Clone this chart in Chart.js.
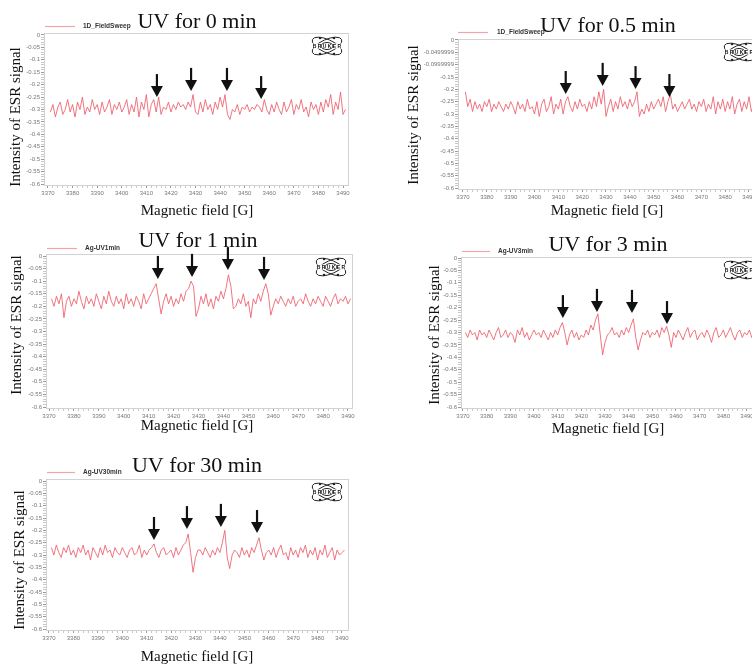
<!DOCTYPE html>
<html>
<head>
<meta charset="utf-8">
<script src="https://cdn.jsdelivr.net/npm/chart.js@4.4.1/dist/chart.umd.min.js"></script>
<style>
  html, body { margin: 0; padding: 0; background: #fff; overflow: hidden; }
  #figure { position: relative; width: 752px; height: 666px; overflow: hidden; background: #fff; }
  #figure canvas { position: absolute; left: 0; top: 0; }
</style>
</head>
<body>
<div id="figure">
  <canvas id="uv0" width="780" height="666"></canvas>
  <canvas id="uv05" width="780" height="666"></canvas>
  <canvas id="uv1" width="780" height="666"></canvas>
  <canvas id="uv3" width="780" height="666"></canvas>
  <canvas id="uv30" width="780" height="666"></canvas>
</div>
<script>
// field sweep: one point per gauss starting at 3371 G
const fieldStart = 3371;
const fieldStep = 1;

const xTickLabels = ['3370', '3380', '3390', '3400', '3410', '3420', '3430', '3440', '3450', '3460', '3470', '3480', '3490'];
const yTickLabels = ['0', '-0.05', '-0.1', '-0.15', '-0.2', '-0.25', '-0.3', '-0.35', '-0.4', '-0.45', '-0.5', '-0.55', '-0.6'];
const yTickLabelsSweep = ['0', '-0.0499999', '-0.0999999', '-0.15', '-0.2', '-0.25', '-0.3', '-0.35', '-0.4', '-0.45', '-0.5', '-0.55', '-0.6'];

const panelTitles = ['UV for 0 min', 'UV for 0.5 min', 'UV for 1 min', 'UV for 3 min', 'UV for 30 min'];
const legendLabels = ['1D_FieldSweep', '1D_FieldSweep', 'Ag-UV1min', 'Ag-UV3min', 'Ag-UV30min'];

const signal0min = [
  -0.31, -0.28, -0.33, -0.29, -0.27, -0.32, -0.30, -0.26, -0.31, -0.28,
  -0.33, -0.27, -0.30, -0.25, -0.32, -0.29, -0.31, -0.26, -0.30, -0.28,
  -0.32, -0.27, -0.31, -0.29, -0.26, -0.32, -0.28, -0.30, -0.27, -0.31,
  -0.29, -0.26, -0.32, -0.28, -0.31, -0.25, -0.33, -0.27, -0.30, -0.24,
  -0.33, -0.28, -0.26, -0.31, -0.25, -0.32, -0.29, -0.30, -0.27, -0.31,
  -0.28, -0.30, -0.27, -0.29, -0.28, -0.30, -0.27, -0.29, -0.24, -0.31,
  -0.32, -0.27, -0.31, -0.26, -0.30, -0.28, -0.32, -0.27, -0.30, -0.25,
  -0.29, -0.24, -0.32, -0.34, -0.30, -0.31, -0.28, -0.32, -0.29, -0.30,
  -0.28, -0.31, -0.29, -0.30, -0.28, -0.29, -0.31, -0.26, -0.30, -0.32,
  -0.28, -0.31, -0.27, -0.30, -0.32, -0.27, -0.31, -0.29, -0.26, -0.32,
  -0.28, -0.30, -0.26, -0.31, -0.29, -0.33, -0.27, -0.30, -0.28, -0.32,
  -0.27, -0.31, -0.26, -0.29, -0.24, -0.32, -0.27, -0.30, -0.23, -0.32,
  -0.30
];

const signal05min = [
  -0.21, -0.27, -0.24, -0.29, -0.25, -0.28, -0.26, -0.29, -0.25, -0.27,
  -0.24, -0.29, -0.26, -0.28, -0.25, -0.27, -0.29, -0.26, -0.28, -0.25,
  -0.27, -0.30, -0.25, -0.28, -0.26, -0.29, -0.24, -0.28, -0.27, -0.30,
  -0.25, -0.31, -0.26, -0.24, -0.29, -0.27, -0.23, -0.30, -0.26, -0.28,
  -0.24, -0.30, -0.25, -0.23, -0.27, -0.29, -0.25, -0.28, -0.24, -0.27,
  -0.26, -0.29, -0.25, -0.28, -0.23, -0.27, -0.21, -0.26, -0.20, -0.31,
  -0.27, -0.24, -0.29, -0.25, -0.28, -0.23, -0.27, -0.25, -0.28, -0.24,
  -0.27, -0.25, -0.21, -0.31, -0.28, -0.30, -0.26, -0.29, -0.25, -0.28,
  -0.26, -0.24, -0.27, -0.23, -0.29, -0.25, -0.22, -0.28, -0.26, -0.29,
  -0.27, -0.25, -0.28, -0.26, -0.24, -0.28, -0.26, -0.29, -0.25, -0.27,
  -0.24, -0.29, -0.26, -0.28, -0.23, -0.30, -0.25, -0.28, -0.24, -0.29,
  -0.25, -0.28, -0.23, -0.30, -0.26, -0.24, -0.29, -0.25, -0.28, -0.23,
  -0.29, -0.26, -0.28, -0.25
];

const signal1min = [
  -0.17, -0.20, -0.16, -0.19, -0.15, -0.245, -0.18, -0.16, -0.20, -0.17,
  -0.19, -0.14, -0.18, -0.21, -0.16, -0.19, -0.17, -0.20, -0.15, -0.18,
  -0.21, -0.16, -0.19, -0.14, -0.18, -0.20, -0.16, -0.19, -0.17, -0.21,
  -0.15, -0.19, -0.17, -0.20, -0.16, -0.18, -0.21, -0.15, -0.19, -0.17,
  -0.15, -0.13, -0.11, -0.17, -0.23, -0.18, -0.15, -0.19, -0.16, -0.20,
  -0.17, -0.19, -0.15, -0.18, -0.14, -0.13, -0.10, -0.12, -0.24, -0.21,
  -0.16, -0.19, -0.15, -0.20, -0.17, -0.21, -0.16, -0.18, -0.14, -0.17,
  -0.13, -0.075, -0.12, -0.21, -0.20, -0.17, -0.19, -0.15, -0.20, -0.18,
  -0.245, -0.17, -0.19, -0.15, -0.18, -0.14, -0.11, -0.15, -0.235, -0.20,
  -0.17, -0.19, -0.16, -0.18, -0.20, -0.17, -0.19, -0.16, -0.20, -0.18,
  -0.17, -0.19, -0.15, -0.18, -0.20, -0.17, -0.19, -0.16, -0.18, -0.20,
  -0.16, -0.18, -0.20, -0.17, -0.15, -0.19, -0.17, -0.18, -0.16, -0.19,
  -0.17
];

const signal3min = [
  -0.30, -0.32, -0.29, -0.31, -0.30, -0.33, -0.29, -0.31, -0.30, -0.32,
  -0.29, -0.31, -0.33, -0.30, -0.28, -0.32, -0.31, -0.29, -0.32, -0.30,
  -0.31, -0.34, -0.29, -0.31, -0.28, -0.32, -0.30, -0.33, -0.31, -0.29,
  -0.31, -0.30, -0.32, -0.29, -0.31, -0.33, -0.30, -0.32, -0.29, -0.31,
  -0.28, -0.26, -0.30, -0.35, -0.31, -0.29, -0.32, -0.30, -0.33, -0.31,
  -0.32, -0.29, -0.31, -0.27, -0.29, -0.25, -0.225, -0.31, -0.39, -0.34,
  -0.31, -0.30, -0.28, -0.31, -0.30, -0.32, -0.29, -0.31, -0.28, -0.30,
  -0.27, -0.245, -0.32, -0.37, -0.33, -0.30, -0.31, -0.29, -0.32, -0.30,
  -0.31, -0.29, -0.32, -0.28, -0.30, -0.275, -0.31, -0.36, -0.30, -0.32,
  -0.29, -0.31, -0.33, -0.30, -0.28, -0.32, -0.30, -0.29, -0.33, -0.31,
  -0.30, -0.32, -0.29, -0.31, -0.34, -0.30, -0.28, -0.32, -0.31, -0.29,
  -0.32, -0.30, -0.28, -0.31, -0.33, -0.30, -0.29, -0.32, -0.30, -0.31,
  -0.29, -0.32, -0.30, -0.31
];

const signal30min = [
  -0.27, -0.30, -0.26, -0.29, -0.31, -0.27, -0.29, -0.26, -0.30, -0.28,
  -0.31, -0.27, -0.29, -0.26, -0.30, -0.28, -0.32, -0.27, -0.29, -0.31,
  -0.27, -0.30, -0.26, -0.29, -0.28, -0.31, -0.27, -0.29, -0.30, -0.27,
  -0.29, -0.31, -0.28, -0.27, -0.30, -0.29, -0.26, -0.31, -0.28, -0.30,
  -0.28, -0.27, -0.255, -0.29, -0.31, -0.28, -0.27, -0.30, -0.29, -0.28,
  -0.31, -0.27, -0.30, -0.28, -0.26, -0.25, -0.215, -0.29, -0.37, -0.31,
  -0.28, -0.28, -0.30, -0.27, -0.29, -0.31, -0.28, -0.30, -0.27, -0.29,
  -0.25, -0.20, -0.31, -0.355, -0.30, -0.28, -0.29, -0.31, -0.27, -0.30,
  -0.28, -0.31, -0.27, -0.29, -0.26, -0.23, -0.28, -0.32, -0.29, -0.28,
  -0.30, -0.27, -0.31, -0.28, -0.26, -0.30, -0.29, -0.32, -0.27, -0.30,
  -0.28, -0.31, -0.27, -0.29, -0.26, -0.31, -0.28, -0.30, -0.27, -0.32,
  -0.28, -0.30, -0.26, -0.31, -0.29, -0.27, -0.32, -0.28, -0.30, -0.29,
  -0.28
];

// arrow markers: field position and signal level of the arrow tip
const arrowField0min = [3414.3, 3428.2, 3442.8, 3456.7];
const arrowTip0min = [-0.25, -0.225, -0.225, -0.258];
const arrowField05min = [3413.1, 3428.6, 3442.4, 3456.6];
const arrowTip05min = [-0.219, -0.186, -0.199, -0.231];
const arrowField1min = [3413.7, 3427.4, 3441.8, 3456.3];
const arrowTip1min = [-0.091, -0.083, -0.056, -0.095];
const arrowField3min = [3412.2, 3426.6, 3441.4, 3456.2];
const arrowTip3min = [-0.242, -0.217, -0.221, -0.266];
const arrowField30min = [3413.0, 3426.5, 3440.4, 3455.2];
const arrowTip30min = [-0.239, -0.195, -0.186, -0.211];

const SERIF = "'Liberation Serif', 'Times New Roman', serif";
const SANS = "'Liberation Sans', Arial, sans-serif";
const traceColor = '#ec5d6a';
const CANVAS_W = 780, CANVAS_H = 666;

// page layout of each panel: plot box, pixel calibration of 3370/3490 G and 0/-0.6, text anchors
const panels = [
  { id: 'uv0', title: panelTitles[0], legend: legendLabels[0], values: signal0min,
    arrowField: arrowField0min, arrowTip: arrowTip0min, yLabels: yTickLabels,
    box: { l: 44, t: 33, r: 348, b: 185 }, cal: { x0: 48, x1: 343, y0: 35, y1: 184 },
    titleAt: [197, 28], legendAt: [45, 75, 26, 83], xTitleAt: [197, 211], yTitleAt: [16, 117] },
  { id: 'uv05', title: panelTitles[1], legend: legendLabels[1], values: signal05min,
    arrowField: arrowField05min, arrowTip: arrowTip05min, yLabels: yTickLabelsSweep,
    box: { l: 458, t: 39, r: 760, b: 189 }, cal: { x0: 463, x1: 749, y0: 40, y1: 188 },
    titleAt: [608, 32], legendAt: [458, 488, 32, 497], xTitleAt: [607, 211], yTitleAt: [414, 115] },
  { id: 'uv1', title: panelTitles[2], legend: legendLabels[2], values: signal1min,
    arrowField: arrowField1min, arrowTip: arrowTip1min, yLabels: yTickLabels,
    box: { l: 46, t: 254, r: 352, b: 408 }, cal: { x0: 49, x1: 348, y0: 256, y1: 407 },
    titleAt: [198, 247], legendAt: [47, 77, 248, 85], xTitleAt: [197, 426], yTitleAt: [17, 325] },
  { id: 'uv3', title: panelTitles[3], legend: legendLabels[3], values: signal3min,
    arrowField: arrowField3min, arrowTip: arrowTip3min, yLabels: yTickLabels,
    box: { l: 461, t: 257, r: 760, b: 408 }, cal: { x0: 463, x1: 747, y0: 258, y1: 407 },
    titleAt: [608, 251], legendAt: [462, 490, 251, 498], xTitleAt: [608, 429], yTitleAt: [435, 335] },
  { id: 'uv30', title: panelTitles[4], legend: legendLabels[4], values: signal30min,
    arrowField: arrowField30min, arrowTip: arrowTip30min, yLabels: yTickLabels,
    box: { l: 46, t: 479, r: 348, b: 630 }, cal: { x0: 49, x1: 342, y0: 481, y1: 629 },
    titleAt: [197, 472], legendAt: [47, 75, 472, 83], xTitleAt: [197, 657], yTitleAt: [20, 560] }
];

// tick positions: major every 10 G / 0.05, minor in between
const xTickValues = [];
for (let v = 3370; v <= 3490; v += 2) xTickValues.push(v);
const yTickValues = [];
for (let i = 60; i >= 0; i--) yTickValues.push(-i / 100);

function drawArrow(ctx, x, tipY) {
  ctx.save();
  ctx.strokeStyle = '#111';
  ctx.fillStyle = '#111';
  ctx.lineWidth = 2.2;
  ctx.beginPath();
  ctx.moveTo(x, tipY - 23);
  ctx.lineTo(x, tipY - 10);
  ctx.stroke();
  ctx.beginPath();
  ctx.moveTo(x - 6, tipY - 11);
  ctx.lineTo(x + 6, tipY - 11);
  ctx.lineTo(x, tipY);
  ctx.closePath();
  ctx.fill();
  ctx.restore();
}

function drawLogo(ctx, cx, cy) {
  ctx.save();
  ctx.strokeStyle = '#222';
  ctx.lineWidth = 1;
  ctx.beginPath();
  ctx.ellipse(cx, cy, 16, 6.5, 0.42, 0, Math.PI * 2);
  ctx.stroke();
  ctx.beginPath();
  ctx.ellipse(cx, cy, 16, 6.5, -0.42, 0, Math.PI * 2);
  ctx.stroke();
  ctx.fillStyle = '#222';
  [[-7, -8], [7, -8], [-7, 8], [7, 8]].forEach(([dx, dy]) => {
    ctx.beginPath();
    ctx.arc(cx + dx, cy + dy, 1.3, 0, Math.PI * 2);
    ctx.fill();
  });
  ctx.fillStyle = '#fff';
  ctx.fillRect(cx - 17, cy - 2.5, 34, 5);
  ctx.beginPath();
  ctx.ellipse(cx, cy, 6, 3.5, 0, 0, Math.PI * 2);
  ctx.stroke();
  ctx.fillStyle = '#111';
  ctx.font = 'bold 5px ' + SANS;
  ctx.textAlign = 'center';
  ctx.textBaseline = 'middle';
  ctx.fillText('B R U K E R', cx, cy + 0.5);
  ctx.restore();
}

function decor(p) {
  return {
    id: 'decor_' + p.id,
    beforeDatasetsDraw(chart) {
      const a = chart.chartArea;
      const ctx = chart.ctx;
      ctx.save();
      ctx.strokeStyle = '#d2d2d2';
      ctx.lineWidth = 1;
      ctx.strokeRect(Math.round(a.left) + 0.5, Math.round(a.top) + 0.5,
        Math.round(a.right - a.left), Math.round(a.bottom - a.top));
      ctx.restore();
    },
    afterDraw(chart) {
      const ctx = chart.ctx;
      const xs = chart.scales.x, ys = chart.scales.y;
      const a = chart.chartArea;

      p.arrowField.forEach((f, i) => {
        drawArrow(ctx, xs.getPixelForValue(f), ys.getPixelForValue(p.arrowTip[i]));
      });

      drawLogo(ctx, a.right - 21, a.top + 13);

      ctx.save();
      ctx.fillStyle = '#111';
      ctx.font = '22px ' + SERIF;
      ctx.textAlign = 'center';
      ctx.textBaseline = 'alphabetic';
      ctx.fillText(p.title, p.titleAt[0], p.titleAt[1]);

      // legend swatch and series name
      const [lx1, lx2, ly, tx] = p.legendAt;
      ctx.strokeStyle = '#f5a3ab';
      ctx.lineWidth = 1.2;
      ctx.beginPath();
      ctx.moveTo(lx1, ly + 0.5);
      ctx.lineTo(lx2, ly + 0.5);
      ctx.stroke();
      ctx.fillStyle = '#333';
      ctx.font = 'bold 6.5px ' + SANS;
      ctx.textAlign = 'left';
      ctx.textBaseline = 'middle';
      ctx.fillText(p.legend, tx, ly);

      // axis titles
      ctx.fillStyle = '#111';
      ctx.font = '15px ' + SERIF;
      ctx.textAlign = 'center';
      ctx.textBaseline = 'middle';
      ctx.fillText('Magnetic field [G]', p.xTitleAt[0], p.xTitleAt[1]);
      ctx.translate(p.yTitleAt[0], p.yTitleAt[1]);
      ctx.rotate(-Math.PI / 2);
      ctx.fillText('Intensity of ESR signal', 0, 0);
      ctx.restore();
    }
  };
}

function buildChart(p) {
  const per = (p.cal.x1 - p.cal.x0) / 120;
  const xMin = 3370 - (p.cal.x0 - p.box.l) / per;
  const xMax = 3490 + (p.box.r - p.cal.x1) / per;
  const perY = (p.cal.y1 - p.cal.y0) / 0.6;
  const yMax = (p.cal.y0 - p.box.t) / perY;
  const yMin = -0.6 - (p.box.b - p.cal.y1) / perY;
  const yw = 40, xh = 16;

  const points = p.values.map((v, i) => ({ x: fieldStart + i * fieldStep, y: v }));

  const isMajorX = v => Math.abs((v - 3370) / 10 - Math.round((v - 3370) / 10)) < 1e-6;
  const isMajorY = v => Math.abs(v / 0.05 - Math.round(v / 0.05)) < 1e-6;

  return new Chart(document.getElementById(p.id), {
    type: 'line',
    data: {
      datasets: [{
        data: points,
        borderColor: traceColor,
        borderWidth: 0.85,
        pointRadius: 0,
        tension: 0
      }]
    },
    options: {
      responsive: false,
      animation: false,
      devicePixelRatio: 1,
      layout: {
        padding: { left: p.box.l - yw, top: p.box.t, right: CANVAS_W - p.box.r, bottom: CANVAS_H - p.box.b - xh }
      },
      plugins: { legend: { display: false }, tooltip: { enabled: false } },
      scales: {
        x: {
          type: 'linear',
          min: xMin,
          max: xMax,
          afterFit: s => { s.height = xh; },
          afterBuildTicks: s => { s.ticks = xTickValues.map(v => ({ value: v })); },
          ticks: {
            autoSkip: false,
            maxRotation: 0,
            padding: 2,
            color: '#777',
            font: { size: 6, family: SANS },
            callback: v => isMajorX(v) ? xTickLabels[Math.round((v - 3370) / 10)] : ''
          },
          grid: {
            drawOnChartArea: false,
            tickLength: 3,
            tickColor: c => (c.tick && isMajorX(c.tick.value)) ? '#999' : '#c8c8c8'
          },
          border: { display: true, color: '#d2d2d2' }
        },
        y: {
          type: 'linear',
          min: yMin,
          max: yMax,
          afterFit: s => { s.width = yw; },
          afterBuildTicks: s => { s.ticks = yTickValues.map(v => ({ value: v })); },
          ticks: {
            autoSkip: false,
            padding: 1,
            color: '#777',
            font: { size: 6, family: SANS },
            callback: v => isMajorY(v) ? p.yLabels[Math.round(-v / 0.05)] : ''
          },
          grid: {
            drawOnChartArea: false,
            tickLength: 3,
            tickColor: c => (c.tick && isMajorY(c.tick.value)) ? '#999' : '#c8c8c8'
          },
          border: { display: true, color: '#d2d2d2' }
        }
      }
    },
    plugins: [decor(p)]
  });
}

panels.forEach(buildChart);
</script>
</body>
</html>
